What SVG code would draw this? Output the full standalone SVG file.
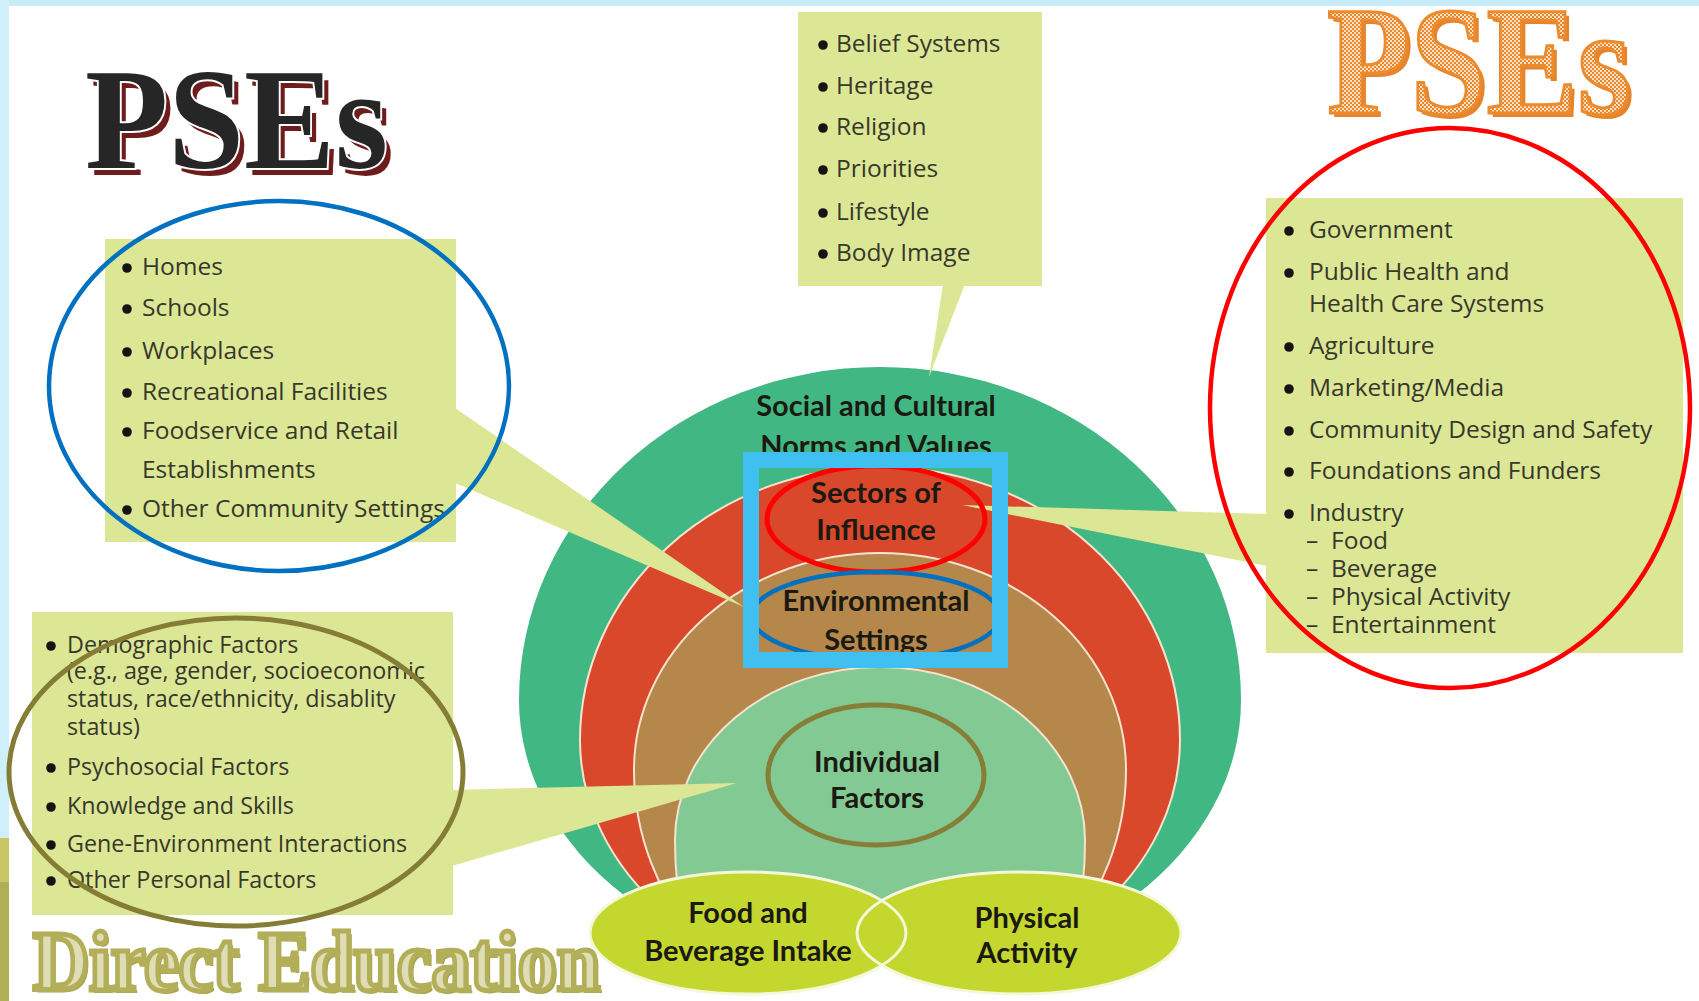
<svg xmlns="http://www.w3.org/2000/svg" width="1699" height="1001" viewBox="0 0 1699 1001">
  <style>
    .box { fill: #dce795; }
    .li { font-family: "Open Sans", "Liberation Sans", sans-serif; font-size: 24.5px; fill: #37372c; }
    .li.tight { font-size: 23.3px; }
    .dot { fill: #141414; }
    .lbl { font-family: Lato, "Liberation Sans", sans-serif; font-weight: 700; font-size: 29px; fill: #1a1a12; text-anchor: middle; }
    .layer { stroke: #f6e3cf; stroke-width: 2; }
    .ring { fill: none; }
    .title { font-family: "Liberation Serif", "DejaVu Serif", serif; font-weight: 700; }
  </style>
  <defs>
    <pattern id="checker" width="4" height="4" patternUnits="userSpaceOnUse">
      <rect width="4" height="4" fill="#fbe2c8"/>
      <rect width="2" height="2" fill="#ec872c"/>
      <rect x="2" y="2" width="2" height="2" fill="#ec872c"/>
    </pattern>
    <clipPath id="modelClip">
      <rect x="0" y="0" width="1699" height="925"/>
    </clipPath>
    <clipPath id="frameInner">
      <rect x="759" y="467" width="234" height="185"/>
    </clipPath>
  </defs>

  <!-- page -->
  <rect width="1699" height="1001" fill="#ffffff"/>
  <rect x="0" y="0" width="1699" height="6" fill="#c6ecfa"/>
  <rect x="0" y="0" width="9" height="838" fill="#cfeffb"/>
  <rect x="0" y="838" width="9" height="44" fill="#c9c765"/>
  <rect x="0" y="882" width="9" height="119" fill="#b1ae53"/>

  <!-- nested layers of the model -->
  <g id="model-layers" clip-path="url(#modelClip)">
    <path id="layer-social" d="M 519 700 A 361 333 0 0 1 1241 700 A 361 277 0 0 1 880 977 A 361 277 0 0 1 519 700 Z" fill="#41b884"/>
    <path id="layer-sectors" class="layer" d="M 580 740 A 300 273 0 0 1 1180 740 A 300 247 0 0 1 880 987 A 300 247 0 0 1 580 740 Z" fill="#d9482b"/>
    <path id="layer-settings" class="layer" d="M 634 770 A 246 217 0 0 1 1126 770 A 246 253 0 0 1 880 1023 A 246 253 0 0 1 634 770 Z" fill="#b5874b"/>
    <path id="layer-individual" class="layer" d="M 675 840 A 205 173 0 0 1 1085 840 A 205 300 0 0 1 880 1140 A 205 300 0 0 1 675 840 Z" fill="#82c993"/>
  </g>

  <!-- callout boxes with their pointers -->
  <g id="box-norms">
    <rect class="box" x="798" y="12" width="244" height="274"/>
    <polygon class="box" points="943,284 965,284 929,377"/>
    <g class="dot">
      <circle cx="823" cy="45" r="4.8"/><circle cx="823" cy="87" r="4.8"/><circle cx="823" cy="128" r="4.8"/>
      <circle cx="823" cy="170" r="4.8"/><circle cx="823" cy="213" r="4.8"/><circle cx="823" cy="254" r="4.8"/>
    </g>
    <g class="li">
      <text x="836" y="52">Belief Systems</text>
      <text x="836" y="94">Heritage</text>
      <text x="836" y="135">Religion</text>
      <text x="836" y="177">Priorities</text>
      <text x="836" y="220">Lifestyle</text>
      <text x="836" y="261">Body Image</text>
    </g>
  </g>

  <g id="box-settings">
    <rect class="box" x="105" y="239" width="351" height="303"/>
    <polygon class="box" points="455,408 744,607 455,483"/>
    <g class="dot">
      <circle cx="127" cy="268" r="4.8"/><circle cx="127" cy="309" r="4.8"/><circle cx="127" cy="352" r="4.8"/>
      <circle cx="127" cy="393" r="4.8"/><circle cx="127" cy="432" r="4.8"/><circle cx="127" cy="510" r="4.8"/>
    </g>
    <g class="li">
      <text x="142" y="275">Homes</text>
      <text x="142" y="316">Schools</text>
      <text x="142" y="359">Workplaces</text>
      <text x="142" y="400">Recreational Facilities</text>
      <text x="142" y="439">Foodservice and Retail</text>
      <text x="142" y="478">Establishments</text>
      <text x="142" y="517">Other Community Settings</text>
    </g>
  </g>

  <g id="box-sectors">
    <rect class="box" x="1266" y="198" width="417" height="455"/>
    <polygon class="box" points="1267,514 962,505 1267,566"/>
    <g class="dot">
      <circle cx="1289" cy="231" r="4.8"/><circle cx="1289" cy="273" r="4.8"/><circle cx="1289" cy="347" r="4.8"/>
      <circle cx="1289" cy="389" r="4.8"/><circle cx="1289" cy="431" r="4.8"/><circle cx="1289" cy="472" r="4.8"/>
      <circle cx="1289" cy="514" r="4.8"/>
    </g>
    <g class="li">
      <text x="1309" y="238">Government</text>
      <text x="1309" y="280">Public Health and</text>
      <text x="1309" y="312">Health Care Systems</text>
      <text x="1309" y="354">Agriculture</text>
      <text x="1309" y="396">Marketing/Media</text>
      <text x="1309" y="438">Community Design and Safety</text>
      <text x="1309" y="479">Foundations and Funders</text>
      <text x="1309" y="521">Industry</text>
      <text x="1306" y="549">–</text><text x="1331" y="549">Food</text>
      <text x="1306" y="577">–</text><text x="1331" y="577">Beverage</text>
      <text x="1306" y="605">–</text><text x="1331" y="605">Physical Activity</text>
      <text x="1306" y="633">–</text><text x="1331" y="633">Entertainment</text>
    </g>
  </g>

  <g id="box-individual">
    <rect class="box" x="32" y="612" width="421" height="303"/>
    <polygon class="box" points="452,790 737,783 452,866"/>
    <g class="dot">
      <circle cx="51" cy="646" r="4.8"/><circle cx="51" cy="768" r="4.8"/><circle cx="51" cy="807" r="4.8"/>
      <circle cx="51" cy="845" r="4.8"/><circle cx="51" cy="881" r="4.8"/>
    </g>
    <g class="li tight">
      <text x="67" y="653">Demographic Factors</text>
      <text x="67" y="679">(e.g., age, gender, socioeconomic</text>
      <text x="67" y="707">status, race/ethnicity, disablity</text>
      <text x="67" y="735">status)</text>
      <text x="67" y="775">Psychosocial Factors</text>
      <text x="67" y="814">Knowledge and Skills</text>
      <text x="67" y="852">Gene-Environment Interactions</text>
      <text x="67" y="888">Other Personal Factors</text>
    </g>
  </g>

  <!-- layer labels -->
  <g id="node-social">
    <text class="lbl" x="876" y="416">Social and Cultural</text>
    <text class="lbl" x="876" y="456">Norms and Values</text>
  </g>

  <g id="node-sectors">
    <text class="lbl" x="876" y="503">Sectors of</text>
    <text class="lbl" x="876" y="540">Influence</text>
    <ellipse class="ring" cx="876" cy="519" rx="109" ry="53" stroke="#ff0000" stroke-width="5"/>
  </g>

  <g id="node-settings">
    <text class="lbl" x="876" y="611">Environmental</text>
    <text class="lbl" x="876" y="650">Settings</text>
    <ellipse class="ring" cx="876" cy="616" rx="124" ry="44" stroke="#0070c0" stroke-width="4.5" clip-path="url(#frameInner)"/>
  </g>

  <rect id="focus-frame" x="751" y="460" width="249" height="200" fill="none" stroke="#40c0f0" stroke-width="16"/>

  <g id="node-individual">
    <text class="lbl" x="877" y="772">Individual</text>
    <text class="lbl" x="877" y="808">Factors</text>
    <ellipse class="ring" cx="876" cy="775" rx="108" ry="70" stroke="#867e36" stroke-width="5"/>
  </g>

  <g id="node-behaviours">
    <ellipse cx="748" cy="933" rx="158" ry="61" fill="#c4d72f"/>
    <ellipse cx="1019" cy="933" rx="162" ry="61" fill="#c4d72f"/>
    <ellipse class="ring" cx="748" cy="933" rx="158" ry="61" stroke="#f4f7d8" stroke-width="3"/>
    <ellipse class="ring" cx="1019" cy="933" rx="162" ry="61" stroke="#f4f7d8" stroke-width="3"/>
    <text class="lbl" x="748" y="923">Food and</text>
    <text class="lbl" x="748" y="961">Beverage Intake</text>
    <text class="lbl" x="1027" y="928">Physical</text>
    <text class="lbl" x="1027" y="963">Activity</text>
  </g>

  <!-- highlight rings around the callouts -->
  <g id="highlights">
    <ellipse class="ring" cx="279" cy="386" rx="230" ry="185" stroke="#0070c0" stroke-width="4.5"/>
    <ellipse class="ring" cx="1450" cy="408" rx="240" ry="280" stroke="#ff0000" stroke-width="4.5"/>
    <ellipse class="ring" cx="236" cy="772" rx="227" ry="154" stroke="#857d36" stroke-width="5"/>
  </g>

  <!-- headings -->
  <g id="title-pses-left" class="title" font-size="145">
    <text x="91" y="175" textLength="303" lengthAdjust="spacingAndGlyphs" fill="#6e1c1c">PSEs</text>
    <text x="85" y="168" textLength="303" lengthAdjust="spacingAndGlyphs" fill="#262626" stroke="#ffffff" stroke-width="4" paint-order="stroke">PSEs</text>
  </g>

  <g id="title-pses-right" class="title" font-size="155">
    <text x="1331" y="117" textLength="304" lengthAdjust="spacingAndGlyphs" fill="#e5842c">PSEs</text>
    <text x="1327" y="113" textLength="304" lengthAdjust="spacingAndGlyphs" fill="url(#checker)" stroke="#ec8a2e" stroke-width="3">PSEs</text>
  </g>

  <g id="title-direct-education" class="title" font-size="84">
    <text x="36" y="993" textLength="567" lengthAdjust="spacingAndGlyphs" fill="#a8a44f">Direct Education</text>
    <text x="33" y="990" textLength="567" lengthAdjust="spacingAndGlyphs" fill="#dfddb5" stroke="#b2af58" stroke-width="5">Direct Education</text>
  </g>
</svg>
